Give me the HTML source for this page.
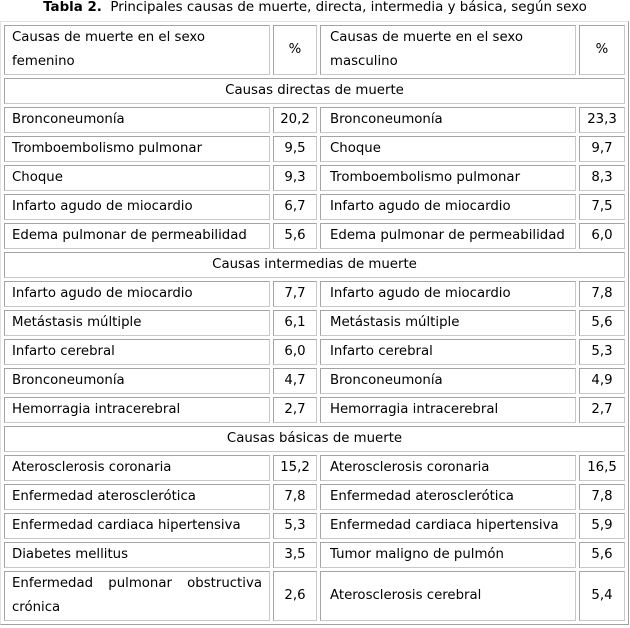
<!DOCTYPE html>
<html>
<head>
<meta charset="utf-8">
<style>
  html, body { margin:0; padding:0; background:#fff; }
  body { width:630px; height:628px; position:relative; overflow:hidden;
         font-family:"DejaVu Sans", "Liberation Sans", sans-serif; font-size:13.3px; color:#000; }
  .title { position:absolute; left:0; top:1px; width:630px; text-align:center; line-height:13px; white-space:nowrap; font-size:13.4px; }
  .title b { font-weight:bold; }
  table { position:absolute; left:0; top:21px; border-collapse:separate; border-spacing:3px;
          border:1px solid; border-color:#e2e2e2 #a0a0a0 #a0a0a0 #e2e2e2;
          width:629px; table-layout:fixed; }
  td { box-sizing:border-box; border:1px solid; border-color:#a4a4a4 #c8c8c8 #c8c8c8 #a4a4a4;
       padding:0 7px; line-height:24px; vertical-align:middle; white-space:nowrap; }
  td.n { text-align:center; padding:0; }
  td.c3 { padding-left:9px; }
  td.sec { text-align:center; }
  td.j { text-align:justify; white-space:normal; }
</style>
</head>
<body>
<div class="title"><b>Tabla 2.</b>&nbsp; Principales causas de muerte, directa, intermedia y básica, según sexo</div>
<table>
  <colgroup>
    <col style="width:266px">
    <col style="width:44px">
    <col style="width:256px">
    <col style="width:46px">
  </colgroup>
  <tr>
    <td>Causas de muerte en el sexo<br>femenino</td>
    <td class="n">%</td>
    <td class="c3">Causas de muerte en el sexo<br>masculino</td>
    <td class="n">%</td>
  </tr>
  <tr><td class="sec" colspan="4">Causas directas de muerte</td></tr>
  <tr><td>Bronconeumonía</td><td class="n">20,2</td><td class="c3">Bronconeumonía</td><td class="n">23,3</td></tr>
  <tr><td>Tromboembolismo pulmonar</td><td class="n">9,5</td><td class="c3">Choque</td><td class="n">9,7</td></tr>
  <tr><td>Choque</td><td class="n">9,3</td><td class="c3">Tromboembolismo pulmonar</td><td class="n">8,3</td></tr>
  <tr><td>Infarto agudo de miocardio</td><td class="n">6,7</td><td class="c3">Infarto agudo de miocardio</td><td class="n">7,5</td></tr>
  <tr><td>Edema pulmonar de permeabilidad</td><td class="n">5,6</td><td class="c3">Edema pulmonar de permeabilidad</td><td class="n">6,0</td></tr>
  <tr><td class="sec" colspan="4">Causas intermedias de muerte</td></tr>
  <tr><td>Infarto agudo de miocardio</td><td class="n">7,7</td><td class="c3">Infarto agudo de miocardio</td><td class="n">7,8</td></tr>
  <tr><td>Metástasis múltiple</td><td class="n">6,1</td><td class="c3">Metástasis múltiple</td><td class="n">5,6</td></tr>
  <tr><td>Infarto cerebral</td><td class="n">6,0</td><td class="c3">Infarto cerebral</td><td class="n">5,3</td></tr>
  <tr><td>Bronconeumonía</td><td class="n">4,7</td><td class="c3">Bronconeumonía</td><td class="n">4,9</td></tr>
  <tr><td>Hemorragia intracerebral</td><td class="n">2,7</td><td class="c3">Hemorragia intracerebral</td><td class="n">2,7</td></tr>
  <tr><td class="sec" colspan="4">Causas básicas de muerte</td></tr>
  <tr><td>Aterosclerosis coronaria</td><td class="n">15,2</td><td class="c3">Aterosclerosis coronaria</td><td class="n">16,5</td></tr>
  <tr><td>Enfermedad aterosclerótica</td><td class="n">7,8</td><td class="c3">Enfermedad aterosclerótica</td><td class="n">7,8</td></tr>
  <tr><td>Enfermedad cardiaca hipertensiva</td><td class="n">5,3</td><td class="c3">Enfermedad cardiaca hipertensiva</td><td class="n">5,9</td></tr>
  <tr><td>Diabetes mellitus</td><td class="n">3,5</td><td class="c3">Tumor maligno de pulmón</td><td class="n">5,6</td></tr>
  <tr><td class="j">Enfermedad pulmonar obstructiva crónica</td><td class="n">2,6</td><td class="c3">Aterosclerosis cerebral</td><td class="n">5,4</td></tr>
</table>
</body>
</html>
